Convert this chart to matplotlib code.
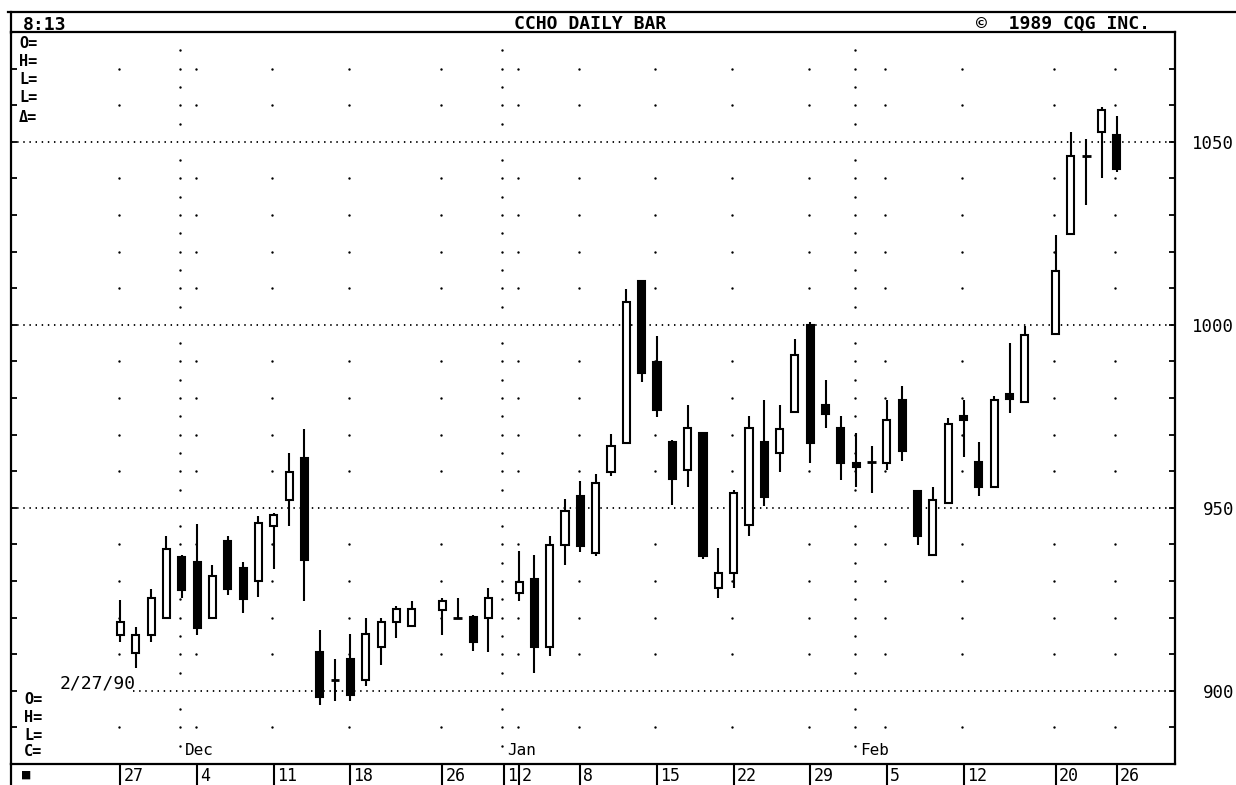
import numpy as np
import matplotlib.pyplot as plt
import matplotlib.transforms as mtrans
from matplotlib.patches import Rectangle
from matplotlib.lines import Line2D

plt.rcParams['font.family'] = ['DejaVu Sans Mono', 'DejaVu Sans']

# --- daily bars (holidays leave an empty slot) ---
dates = ['1989-11-27', '1989-11-28', '1989-11-29', '1989-11-30', '1989-12-01',
         '1989-12-04', '1989-12-05', '1989-12-06', '1989-12-07', '1989-12-08',
         '1989-12-11', '1989-12-12', '1989-12-13', '1989-12-14', '1989-12-15',
         '1989-12-18', '1989-12-19', '1989-12-20', '1989-12-21', '1989-12-22',
         '1989-12-26', '1989-12-27', '1989-12-28', '1989-12-29',
         '1990-01-02', '1990-01-03', '1990-01-04', '1990-01-05',
         '1990-01-08', '1990-01-09', '1990-01-10', '1990-01-11', '1990-01-12',
         '1990-01-15', '1990-01-16', '1990-01-17', '1990-01-18', '1990-01-19',
         '1990-01-22', '1990-01-23', '1990-01-24', '1990-01-25', '1990-01-26',
         '1990-01-29', '1990-01-30', '1990-01-31', '1990-02-01', '1990-02-02',
         '1990-02-05', '1990-02-06', '1990-02-07', '1990-02-08', '1990-02-09',
         '1990-02-12', '1990-02-13', '1990-02-14', '1990-02-15', '1990-02-16',
         '1990-02-20', '1990-02-21', '1990-02-22', '1990-02-23', '1990-02-26']

opens = [915.3, 910.3, 915.3, 919.9, 936.5,
         935.2, 919.9, 940.8, 933.5, 930.1,
         945.1, 952.2, 963.6, 910.6, 903.0,
         908.6, 903.0, 912.1, 918.7, 917.6,
         922.1, 919.9, 920.2, 919.9,
         926.7, 930.5, 911.9, 939.9,
         953.1, 937.6, 959.9, 967.8, 1012.1,
         989.7, 968.1, 960.2, 970.4, 928.1,
         932.2, 945.4, 968.1, 964.9, 976.3,
         1000.0, 978.1, 971.8, 962.3, 962.4,
         962.2, 979.5, 954.5, 937.2, 951.3,
         975.2, 962.4, 955.8, 981.0, 979.0,
         997.5, 1024.9, 1046.0, 1052.6, 1051.9]

highs = [924.9, 917.3, 927.8, 942.2, 937.0,
         945.6, 934.4, 942.2, 935.1, 947.8,
         948.5, 964.9, 971.5, 916.7, 908.6,
         915.5, 919.9, 919.9, 923.2, 924.6,
         925.3, 925.3, 920.8, 928.1,
         938.1, 937.2, 942.2, 952.4,
         957.2, 959.2, 970.1, 1009.8, 1012.1,
         997.0, 968.6, 978.1, 970.6, 939.0,
         954.9, 975.0, 979.5, 978.1, 996.1,
         1000.9, 984.8, 975.0, 970.4, 966.8,
         979.5, 983.2, 954.5, 955.8, 974.5,
         979.5, 968.1, 980.6, 995.0, 999.7,
         1024.6, 1052.8, 1050.7, 1059.6, 1057.1]

lows = [913.2, 906.2, 913.2, 919.9, 925.3,
        915.3, 919.9, 926.2, 921.3, 925.6,
        933.2, 945.1, 924.4, 896.2, 897.1,
        897.1, 901.2, 907.1, 914.4, 917.6,
        915.3, 919.9, 911.0, 910.6,
        924.4, 904.8, 909.4, 934.4,
        937.8, 936.7, 958.7, 967.8, 984.5,
        974.8, 950.8, 955.7, 936.0, 925.3,
        928.1, 942.2, 950.4, 959.9, 976.3,
        962.2, 971.8, 957.7, 955.8, 954.0,
        960.4, 962.9, 939.9, 936.7, 951.3,
        964.0, 953.1, 955.8, 975.9, 979.0,
        997.5, 1024.9, 1032.8, 1040.1, 1041.8]

closes = [918.7, 915.3, 925.4, 938.8, 927.6,
          917.1, 931.4, 927.8, 925.1, 945.8,
          948.1, 959.9, 935.8, 898.2, 903.0,
          898.9, 915.5, 918.7, 922.3, 922.3,
          924.6, 919.9, 913.2, 925.3,
          929.6, 911.9, 939.9, 949.0,
          939.6, 956.9, 966.8, 1006.1, 986.8,
          976.8, 957.8, 971.8, 936.7, 932.3,
          954.0, 971.8, 952.9, 971.5, 991.8,
          967.7, 975.7, 962.2, 961.2, 962.4,
          973.9, 965.4, 942.2, 952.0, 972.9,
          974.0, 955.8, 979.5, 979.8, 997.3,
          1014.6, 1046.0, 1046.0, 1058.6, 1042.5]

tick_dates = ['1989-11-27', '1989-12-04', '1989-12-11', '1989-12-18', '1989-12-26',
              '1990-01-01', '1990-01-02', '1990-01-08', '1990-01-15', '1990-01-22',
              '1990-01-29', '1990-02-05', '1990-02-12', '1990-02-20', '1990-02-26']
tick_labels = ['27', '4', '11', '18', '26', '1', '2', '8', '15', '22', '29', '5', '12', '20', '26']
month_dates = ['1989-12-01', '1990-01-01', '1990-02-01']
month_labels = ['Dec', 'Jan', 'Feb']
price_levels = [900, 950, 1000, 1050]

start = '1989-11-27'


def slot(d):
    return int(np.busday_count(start, d))


xs = np.array([slot(d) for d in dates])

W, H = 1236, 785
fig = plt.figure(figsize=(W / 100, H / 100), dpi=100)
ax = fig.add_axes([11 / W, 21 / H, 1164 / W, 732 / H])
x0, x1 = -7.14, 68.79
ax.set_xlim(x0, x1)
ax.set_ylim(880, 1080)
for s in ax.spines.values():
    s.set_linewidth(1.6)

# --- dotted grid ---
dot = (0, (0.8, 2.6))
ax.hlines([950, 1000, 1050], x0, x1, colors='black', linestyles=dot, lw=1.3, zorder=1)
ax.hlines(900, 0.8, x1, colors='black', linestyles=dot, lw=1.3, zorder=1)

week_lv = [v for v in range(890, 1080, 10) if v % 50]
month_lv = [v for v in range(885, 1080, 5) if v % 50]
for d in tick_dates:
    if d == '1990-01-01':
        continue
    c = slot(d) - 0.1
    ax.scatter([c] * len(week_lv), week_lv, s=3, color='black', linewidths=0, zorder=1)
for d in month_dates:
    c = slot(d) - 0.1
    ax.scatter([c] * len(month_lv), month_lv, s=3, color='black', linewidths=0, zorder=1)

# --- candles ---
bw = 0.46
for x, o, h, l, c in zip(xs, opens, highs, lows, closes):
    ax.vlines(x, l, h, colors='black', lw=1.5, zorder=2)
    if abs(c - o) < 0.3:
        ax.hlines(o, x - bw / 2 - 0.05, x + bw / 2 + 0.05, colors='black', lw=2, zorder=3)
    else:
        ax.add_patch(Rectangle((x - bw / 2, min(o, c)), bw, abs(c - o),
                               facecolor='white' if c > o else 'black',
                               edgecolor='black', lw=1.5, zorder=3))

# --- axes ticks ---
ax.set_yticks(price_levels)
ax.set_yticks(np.arange(880, 1081, 10), minor=True)
ax.tick_params(axis='y', which='both', direction='in', left=True, right=True,
               labelleft=False, labelright=True, length=4, width=1.3)
ax.tick_params(axis='y', which='major', pad=42.5, labelsize=12.5)
for t in ax.yaxis.get_major_ticks():
    t.label2.set_horizontalalignment('right')

ax.set_xticks([slot(d) for d in tick_dates])
ax.tick_params(axis='x', direction='out', length=15, width=1.5, labelbottom=False)
trans = mtrans.offset_copy(ax.get_xaxis_transform(), fig=fig, x=3, y=-3, units='dots')
for d, lab in zip(tick_dates, tick_labels):
    ax.text(slot(d), 0, lab, transform=trans, ha='left', va='top', fontsize=12)

mtrans_m = mtrans.offset_copy(ax.get_xaxis_transform(), fig=fig, x=5, y=6, units='dots')
for d, lab in zip(month_dates, month_labels):
    ax.text(slot(d) - 0.1, 0, lab, transform=mtrans_m, ha='left', va='bottom', fontsize=11.5)


# --- header and side labels (pixel positions) ---
def px(x, y):
    return x / W, 1 - y / H


fig.add_artist(Line2D([8 / W, 1.0], [1 - 12 / H, 1 - 12 / H], color='black', lw=1.6))
fig.add_artist(Line2D([11 / W, 11 / W], [1 - 12 / H, 1 - 33 / H], color='black', lw=1.6))
fig.add_artist(Line2D([11 / W, 11 / W], [0, 21 / H], color='black', lw=1.6))

fig.text(*px(23, 25), '8:13', fontsize=13, va='center', ha='left', weight='bold')
fig.text(*px(590, 24), 'CCHO DAILY BAR', fontsize=13, va='center', ha='center', weight='bold')
fig.text(*px(976, 24), '\u00a9  1989 CQG INC.', fontsize=13, va='center', ha='left', weight='bold')

for y, lab in zip([43, 62, 80, 98, 117], ['O=', 'H=', 'L=', 'L=', '\u0394=']):
    fig.text(*px(19, y), lab, fontsize=11, va='center', ha='left', weight='bold')
for y, lab in zip([700, 718, 735, 752], ['O=', 'H=', 'L=', 'C=']):
    fig.text(*px(24, y), lab, fontsize=11, va='center', ha='left', weight='bold')

fig.text(*px(60, 688), '2/27/90', fontsize=13, va='baseline', ha='left')
fig.text(*px(22, 775), '\u25a0', fontsize=10, va='center', ha='left')

fig.savefig('out.png', dpi=100)
